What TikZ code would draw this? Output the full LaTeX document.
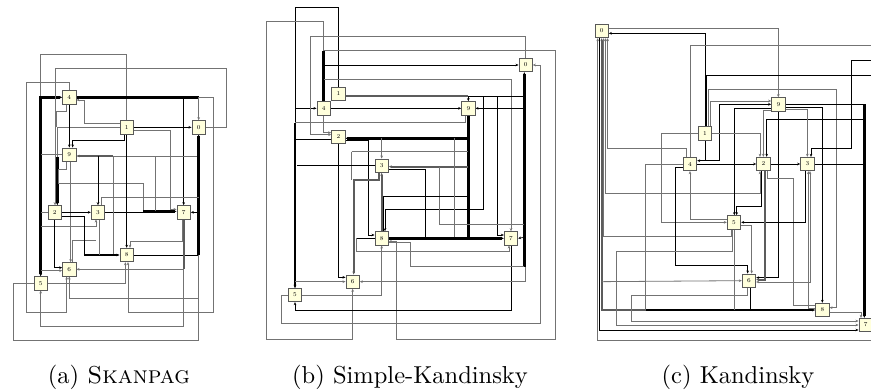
\documentclass[tikz,border=0pt]{standalone}
\usetikzlibrary{arrows.meta,backgrounds}
\definecolor{nodey}{RGB}{255,255,220}
\definecolor{edgegray}{RGB}{115,115,115}
\tikzset{
  nd/.style={draw=black!65, line width=0.8pt, fill=nodey, minimum size=13.5pt, inner sep=0pt,
    font=\fontsize{6}{7}\selectfont,
    append after command={[draw=black!90,line width=1.1pt]
      ([xshift=-0.2pt]\tikzlastnode.north east) -- ([xshift=-0.2pt,yshift=0.2pt]\tikzlastnode.south east) -- ([yshift=0.2pt]\tikzlastnode.south west)}},
  ebk/.style={draw=black, line width=0.7pt},
  egr/.style={draw=edgegray, line width=0.8pt},
  etk/.style={draw=black, line width=2.7pt},
  etg/.style={draw=edgegray!80!black, line width=2.3pt},
  arr/.style={-{Stealth[length=3pt,width=2.6pt]}},
  rarr/.style={{Stealth[length=3pt,width=2.6pt]}-},
  barr/.style={{Stealth[length=3pt,width=2.6pt]}-{Stealth[length=3pt,width=2.6pt]}},
  captxt/.style={font=\fontsize{10}{12}\selectfont, inner sep=0pt, anchor=base}
}
\begin{document}
\begin{tikzpicture}[x=1pt,y=-1pt]
\begin{pgfonlayer}{background}
\fill[white] (0,0) rectangle (871,391);
\end{pgfonlayer}
\useasboundingbox (0,0) rectangle (871,391);

% ---------------- panel (a) ----------------
\begin{scope}[yshift=-40pt, x=0.33333pt, y=-0.33333pt]
\node[nd] (a4) at (208,172) {4};
\node[nd] (a1) at (380,262) {1};
\node[nd] (a0) at (596,262) {0};
\node[nd] (a9) at (208,344) {9};
\node[nd] (a2) at (164,517) {2};
\node[nd] (a3) at (294,517) {3};
\node[nd] (a7) at (551,517) {7};
\node[nd] (a8) at (380,645) {8};
\node[nd] (a6) at (208,688) {6};
\node[nd] (a5) at (122,730) {5};
\begin{pgfonlayer}{background}
\draw[egr,arr] (a1.north) -- (380,42) -- (122,42) -- (a5.north);
\draw[etk,barr] (a4.west) -| (a5.north);
\draw[egr,arr] (a0.east) -- (680,262) -- (680,85) -- (165,85) -- (a2.north -| 165,0);
\draw[egr] (a1.west) -- (172,262) -- (172,350);
\draw[etk,arr] (172,350) -- (a2.north -| 172,0);
\draw[egr,arr] (a4.north) -- (208,128) -- (80,128) -- (80,818) -- (200,818) -- (a6.south -| 200,0);
\draw[etk] (a4.east) -- (596,172);
\draw[egr,arr] (596,172) -- (a0.north);
\draw[ebk,arr] (551,172) -- (a7.north);
\draw[egr,arr] (596,172) -- (640,172) -- (640,818) -- (384,818) -- (a8.south -| 384,0);
\draw[egr,arr] (a1.west |- 0,250) -- (252,250) -- (252,180) -- (a4.east |- 0,180);
\draw[ebk,arr] (a1.east) -- (a0.west);
\draw[egr,arr] (a1.east |- 0,270) -- (510,270) -- (510,508) -- (a7.west |- 0,508);
\draw[ebk,arr] (a1.south -| 372,0) -- (372,300) -- (218,300) -- (a9.north -| 218,0);
\draw[ebk,arr] (a4.south) -- (a9.north);
\draw[egr,arr] (a9.south -| 212,0) -- (a6.north -| 212,0);
\draw[egr] (a4.south -| 198,0) -- (198,213) -- (168,213) -- (168,262);
\draw[egr] (a9.west) -- (122,344);
\draw[egr] (a9.south -| 200,0) -- (200,388) -- (176,388) -- (176,430) -- (430,430) -- (430,514);
\draw[etk,arr] (430,514) -- (a7.west |- 0,514);
\draw[ebk] (a3.east) -- (430,517);
\draw[etg,rarr] (a9.east |- 0,348) -- (340,348);
\draw[egr] (340,348) -- (596,348);
\draw[egr] (465,348) -- (465,514);
\draw[ebk,arr] (294,348) -- (a3.north);
\draw[egr] (340,348) -- (340,645);
\draw[etk,rarr] (a0.south) -- (596,645);
\draw[ebk] (596,645) -- (a8.east);
\draw[egr,arr] (596,645) -- (596,775) -- (208,775) -- (a6.south);
\draw[egr] (a5.west) -- (40,730) -- (40,900) -- (596,900) -- (596,775);
\draw[ebk,arr] (596,517) -- (a7.east);
\draw[egr] (a3.north -| 305,0) -- (305,473) -- (596,473);
\draw[egr] (a2.west) -- (122,517);
\draw[ebk,arr] (a2.east) -- (a3.west);
\draw[egr,arr] (122,560) -- (288,560) -- (a3.south -| 288,0);
\draw[ebk,arr] (a2.south) -- (164,683) -- (a6.west |- 0,683);
\draw[egr] (a6.north -| 216,0) -- (216,600) -- (288,600);
\draw[etk,arr] (252,645) -- (a8.west);
\draw[ebk] (a2.east |- 0,528) -- (252,528) -- (252,645);
\draw[egr] (a3.south -| 298,0) -- (298,645);
\draw[egr,arr] (a7.south -| 546,0) -- (546,605) -- (390,605) -- (a8.north -| 390,0);
\draw[etg] (a7.south) -- (551,688);
\draw[egr,arr] (551,688) -- (a6.east);
\draw[egr,arr] (551,688) -- (551,860) -- (122,860) -- (a5.south);
\draw[egr,arr] (a5.east) -- (376,730) -- (a8.south -| 376,0);
\draw[egr,arr] (122,692) -- (a6.west |- 0,692);
\draw[ebk,arr] (a1.south) -- (a8.north);
\end{pgfonlayer}
\end{scope}

% ---------------- panel (b) ----------------
\begin{scope}[xshift=255pt, x=0.33333pt, y=-0.33333pt]
\node[nd] (b0) at (812,195) {0};
\node[nd] (b1) at (250,282) {1};
\node[nd] (b4) at (206,325) {4};
\node[nd] (b9) at (640,325) {9};
\node[nd] (b2) at (250,410) {2};
\node[nd] (b3) at (380,497) {3};
\node[nd] (b8) at (380,715) {8};
\node[nd] (b7) at (768,715) {7};
\node[nd] (b6) at (293,845) {6};
\node[nd] (b5) at (120,885) {5};
\begin{pgfonlayer}{background}
\draw[ebk,arr] (b1.north) -- (250,22) -- (120,22) -- (b5.north);
\draw[etk,arr] (120,368) -- (b5.north);
\draw[ebk,arr] (120,325) -- (b4.west);
\draw[egr,arr] (b4.north) -- (206,65) -- (35,65) -- (35,1018) -- (293,1018) -- (b6.south);
\draw[etk] (b4.north) -- (206,152);
\draw[egr,arr] (b0.north) -- (812,108) -- (165,108) -- (165,404) -- (b2.west |- 0,404);
\draw[egr,arr] (206,152) -- (900,152) -- (900,1018) -- (425,1018) -- (425,724) -- (b8.east |- 0,724);
\draw[ebk,arr] (206,195) -- (b0.west);
\draw[egr,arr] (206,238) -- (768,238) -- (b7.north);
\draw[egr,arr] (b5.west) -- (78,885) -- (78,970) -- (855,970) -- (855,195) -- (b0.east);
\draw[etg] (b1.east |- 0,288) -- (640,288);
\draw[ebk] (640,288) -- (808,288);
\draw[ebk,arr] (640,288) -- (b9.north);
\draw[ebk,arr] (685,288) -- (685,628) -- (390,628) -- (b8.north -| 390,0);
\draw[ebk,arr] (728,288) -- (728,705) -- (b7.west |- 0,705);
\draw[etk,rarr] (b0.south -| 808,0) -- (808,800);
\draw[ebk,arr] (808,325) -- (b9.east);
\draw[ebk,arr] (b4.east) -- (b9.west);
\draw[egr,arr] (b4.south) -- (206,398) -- (b2.west |- 0,398);
\draw[egr] (120,368) -- (632,368) -- (b9.south -| 632,0);
\draw[etk] (b9.south) -- (640,415);
\draw[etk,arr] (640,415) -- (b2.east |- 0,415);
\draw[etk] (640,415) -- (640,712);
\draw[etk,arr] (b8.east) -- (b7.west);
\draw[ebk] (b2.west |- 0,418) -- (120,418);
\draw[ebk,arr] (b2.south) -- (250,832) -- (b6.west |- 0,832);
\draw[ebk,arr] (b2.east |- 0,422) -- (340,422) -- (340,705) -- (b8.west |- 0,705);
\draw[egr,arr] (380,415) -- (b3.north);
\draw[egr] (290,455) -- (640,455);
\draw[egr] (290,455) -- (290,540);
\draw[etg,arr] (b3.south -| 372,0) -- (372,540) -- (296,540) -- (b6.north -| 296,0);
\draw[ebk] (b3.west) -- (126,497);
\draw[etg,rarr] (b3.east |- 0,500) -- (640,500);
\draw[ebk] (b3.east |- 0,508) -- (512,508) -- (512,712);
\draw[egr] (552,500) -- (552,672) -- (808,672);
\draw[ebk] (b8.north -| 385,0) -- (385,588) -- (640,588);
\draw[ebk] (305,715) -- (b8.west);
\draw[egr,arr] (305,715) -- (305,755) -- (762,755) -- (b7.south -| 762,0);
\draw[egr,arr] (b5.east) -- (380,885) -- (b8.south);
\draw[ebk,arr] (b7.south) -- (768,930) -- (120,930) -- (b5.south);
\draw[ebk,arr] (808,712) -- (b7.east);
\draw[egr] (b8.east |- 0,728) -- (465,728) -- (465,800) -- (808,800);
\draw[egr,arr] (812,800) -- (812,845) -- (b6.east);
\draw[egr,arr] (120,845) -- (b6.west |- 0,845);
\draw[etg,rarr] (b3.south) -- (b8.north);
\draw[egr] (598,415) -- (598,712);
\end{pgfonlayer}
\end{scope}

% ---------------- panel (c) ----------------
\begin{scope}[xshift=575pt, yshift=-15pt, x=0.33333pt, y=-0.33333pt]
\node[nd] (c0) at (80,48) {0};
\node[nd] (c9) at (610,268) {9};
\node[nd] (c1) at (390,355) {1};
\node[nd] (c4) at (345,447) {4};
\node[nd] (c2) at (565,447) {2};
\node[nd] (c3) at (697,447) {3};
\node[nd] (c5) at (477,622) {5};
\node[nd] (c6) at (522,797) {6};
\node[nd] (c8) at (742,885) {8};
\node[nd] (c7) at (872,930) {7};
\begin{pgfonlayer}{background}
\draw[ebk,arr] (c1.north) -- (390,55) -- (c0.east |- 0,55);
\draw[egr,arr] (c0.east |- 0,40) -- (610,40) -- (c9.north);
\draw[egr,rarr] (c0.south -| 68,0) -- (68,975) -- (888,975);
\draw[ebk,arr] (c0.south -| 74,0) -- (74,945) -- (c7.west |- 0,945);
\draw[etg,rarr] (c0.south -| 80,0) -- (80,885) -- (212,885);
\draw[egr,rarr] (c0.south -| 86,0) -- (86,665) -- (470,665) -- (c5.south -| 470,0);
\draw[egr,barr] (c0.south -| 92,0) -- (92,535) -- (555,535) -- (c2.south -| 555,0);
\draw[egr,rarr] (c0.south -| 98,0) -- (98,400) -- (335,400) -- (c4.north -| 335,0);
\draw[egr,arr] (80,800) -- (c6.west);
\draw[egr] (c4.north) -- (345,92) -- (888,92);
\draw[ebk] (c1.north -| 395,0) -- (395,182) -- (888,182);
\draw[egr,arr] (c1.north -| 400,0) -- (400,222) -- (785,222) -- (785,878) -- (c8.east |- 0,878);
\draw[egr,arr] (c1.north -| 405,0) -- (405,258) -- (c9.west |- 0,258);
\draw[ebk,barr] (c9.west |- 0,268) -- (432,268) -- (432,437) -- (c4.east |- 0,437);
\draw[ebk] (c1.south) -- (390,437);
\draw[ebk,arr] (888,135) -- (830,135) -- (830,400) -- (708,400) -- (c3.north -| 708,0);
\draw[ebk,arr] (c9.east |- 0,276) -- (742,276) -- (c8.north);
\draw[ebk] (c9.east |- 0,268) -- (868,268);
\draw[etk,arr] (868,268) -- (c7.north -| 868,0);
\draw[ebk,arr] (868,312) -- (575,312) -- (c2.north -| 575,0);
\draw[ebk,arr] (c9.west |- 0,280) -- (478,280) -- (c5.north -| 478,0);
\draw[ebk,arr] (c9.south) -- (610,788) -- (c6.east |- 0,788);
\draw[egr,arr] (c9.west |- 0,286) -- (565,286) -- (c2.north);
\draw[egr,arr] (c9.east |- 0,283) -- (697,283) -- (c3.north);
\draw[egr,arr] (c1.west) -- (258,355) -- (258,622) -- (c5.west);
\draw[egr,arr] (c1.east) -- (555,355) -- (c2.north -| 555,0);
\draw[egr] (c4.west) -- (212,447) -- (212,885);
\draw[etk,arr] (212,885) -- (c8.west);
\draw[ebk,arr] (c4.west |- 0,457) -- (300,457) -- (300,752) -- (518,752) -- (c6.north -| 518,0);
\draw[ebk,arr] (c4.east) -- (c2.west);
\draw[egr,rarr] (c4.south) -- (345,612) -- (c5.west |- 0,612);
\draw[ebk,arr] (c2.east) -- (c3.west);
\draw[ebk,arr] (c2.south -| 560,0) -- (560,575) -- (485,575) -- (c5.north -| 485,0);
\draw[egr] (c2.south -| 578,0) -- (578,490) -- (655,490) -- (655,870) -- (c8.west |- 0,870);
\draw[ebk] (c3.east) -- (868,447);
\draw[ebk,arr] (c3.south -| 690,0) -- (690,622) -- (c5.east);
\draw[egr,barr] (c3.south -| 705,0) -- (705,801) -- (c6.east |- 0,801);
\draw[egr,arr] (c5.south -| 472,0) -- (472,710) -- (125,710) -- (125,930) -- (c7.west |- 0,930);
\draw[egr,arr] (c6.south -| 516,0) -- (516,840) -- (170,840) -- (170,918) -- (c7.west |- 0,918);
\draw[ebk] (c6.south -| 526,0) -- (526,885);
\draw[egr,arr] (c5.east |- 0,630) -- (530,630) -- (c6.north -| 530,0);
\draw[egr,arr] (c8.east |- 0,892) -- (858,892) -- (c7.north -| 858,0);
\draw[etg,arr] (c2.south -| 569,0) -- (569,794) -- (c6.east |- 0,794);
\draw[egr,rarr] (c3.south -| 700,0) -- (700,880) -- (c8.west |- 0,880);
\draw[egr] (c5.south) -- (477,885);
\end{pgfonlayer}
\end{scope}

% ---------------- captions ----------------
\node[captxt] (capa) at (119,383) {\scalebox{2.45}{(a) \textsc{Skanpag}}};
\node[captxt] (capb) at (410,383) {\scalebox{2.45}{(b) Simple-Kandinsky}};
\node[captxt] (capc) at (738,383) {\scalebox{2.45}{(c) Kandinsky}};
\end{tikzpicture}
\end{document}
